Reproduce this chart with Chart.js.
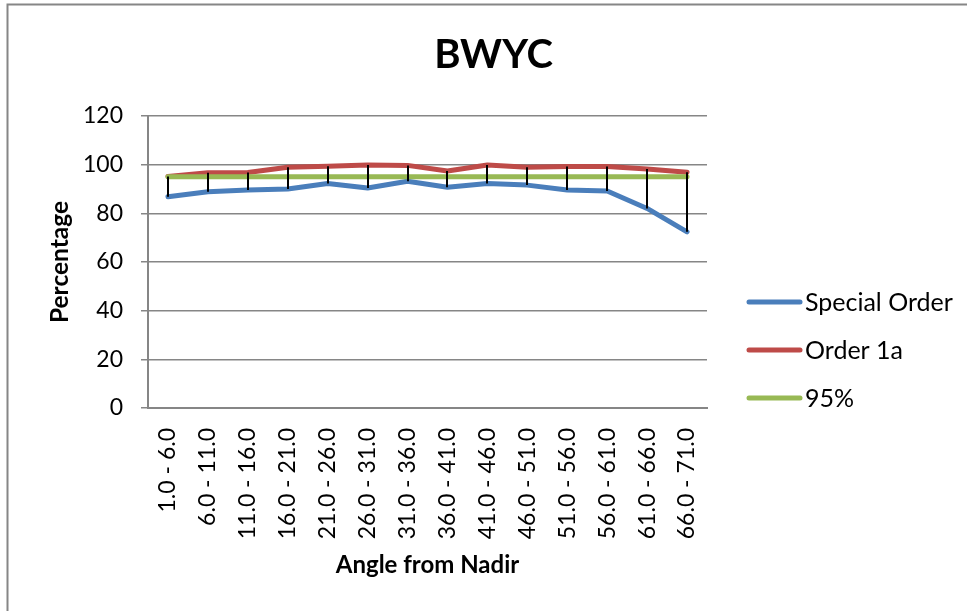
<!DOCTYPE html>
<html>
<head>
<meta charset="utf-8">
<script src="https://cdn.jsdelivr.net/npm/chart.js@4/dist/chart.umd.min.js"></script>
<style>
  html, body { margin: 0; padding: 0; background: #ffffff; }
  #wrap { width: 967px; height: 611px; position: relative; }
</style>
</head>
<body>
<div id="wrap"><canvas id="c" width="967" height="611"></canvas></div>
<script>
// Angle bands from nadir (degrees)
const categories = [
  '1.0 - 6.0', '6.0 - 11.0', '11.0 - 16.0', '16.0 - 21.0', '21.0 - 26.0',
  '26.0 - 31.0', '31.0 - 36.0', '36.0 - 41.0', '41.0 - 46.0', '46.0 - 51.0',
  '51.0 - 56.0', '56.0 - 61.0', '61.0 - 66.0', '66.0 - 71.0'
];

// Percentage of soundings meeting each order
const specialOrder = [86.8, 88.9, 89.6, 90.0, 92.3, 90.4, 93.2, 90.7, 92.3, 91.6, 89.6, 89.2, 82.0, 72.4];
const order1a      = [95.1, 96.7, 96.8, 98.9, 99.3, 99.9, 99.7, 97.4, 99.9, 98.9, 99.2, 99.2, 98.2, 96.9];
const target95     = [95, 95, 95, 95, 95, 95, 95, 95, 95, 95, 95, 95, 95, 95];

const yTicks = [0, 20, 40, 60, 80, 100, 120];

const FONT = 'Lato, "Open Sans", sans-serif';
const GRID = '#868686';

// Outer chart frame
const framePlugin = {
  id: 'frame',
  beforeDraw(chart) {
    const ctx = chart.ctx;
    ctx.save();
    ctx.fillStyle = '#ffffff';
    ctx.fillRect(0, 0, chart.width, chart.height);
    ctx.strokeStyle = GRID;
    ctx.lineWidth = 2;
    ctx.strokeRect(7.5, 4.5, chart.width + 20, chart.height + 20);
    ctx.restore();
  }
};

// Vertical high-low lines joining the highest and lowest series at each band
const highLowPlugin = {
  id: 'highLow',
  afterDatasetsDraw(chart) {
    const ctx = chart.ctx;
    const xs = chart.scales.x, ys = chart.scales.y;
    const sets = chart.data.datasets;
    ctx.save();
    ctx.strokeStyle = '#000000';
    ctx.lineWidth = 2;
    for (let i = 0; i < chart.data.labels.length; i++) {
      const vals = sets.map(d => d.data[i]);
      const hi = Math.max(...vals), lo = Math.min(...vals);
      const x = Math.round(xs.getPixelForValue(i));
      ctx.beginPath();
      ctx.moveTo(x, ys.getPixelForValue(hi));
      ctx.lineTo(x, ys.getPixelForValue(lo));
      ctx.stroke();
    }
    ctx.restore();
  }
};

// Legend on the right side
const legendPlugin = {
  id: 'sideLegend',
  afterDraw(chart) {
    const ctx = chart.ctx;
    const rows = [302, 350, 398];
    ctx.save();
    ctx.font = '25px ' + FONT;
    ctx.textBaseline = 'middle';
    ctx.textAlign = 'left';
    chart.data.datasets.forEach((d, i) => {
      const y = rows[i];
      ctx.strokeStyle = d.borderColor;
      ctx.lineWidth = 5;
      ctx.lineCap = 'round';
      ctx.beginPath();
      ctx.moveTo(749, y);
      ctx.lineTo(800, y);
      ctx.stroke();
      ctx.fillStyle = '#000000';
      ctx.fillText(d.label, 805, y + 1);
    });
    ctx.restore();
  }
};

const lineStyle = {
  borderWidth: 5,
  pointRadius: 0,
  pointHoverRadius: 0,
  tension: 0,
  borderJoinStyle: 'round',
  borderCapStyle: 'round',
  fill: false
};

new Chart(document.getElementById('c'), {
  type: 'line',
  data: {
    labels: categories,
    datasets: [
      Object.assign({ label: 'Special Order', data: specialOrder, borderColor: '#4A7EBB', backgroundColor: '#4A7EBB', order: 3 }, lineStyle),
      Object.assign({ label: 'Order 1a', data: order1a, borderColor: '#BE4B48', backgroundColor: '#BE4B48', order: 2 }, lineStyle),
      Object.assign({ label: '95%', data: target95, borderColor: '#98B954', backgroundColor: '#98B954', order: 1 }, lineStyle)
    ]
  },
  options: {
    responsive: false,
    animation: false,
    events: [],
    layout: { padding: { left: 20, right: 0, top: 0, bottom: 0 } },
    plugins: {
      legend: { display: false },
      tooltip: { enabled: false },
      title: {
        display: true,
        text: 'BWYC',
        color: '#000000',
        font: { family: FONT, size: 40, weight: 'bold', lineHeight: 1.2 },
        padding: { top: 31, bottom: 37 }
      }
    },
    scales: {
      x: {
        type: 'category',
        offset: true,
        grid: { display: false, drawTicks: false },
        border: { display: true, color: GRID, width: 2 },
        ticks: {
          color: '#000000',
          font: { family: FONT, size: 23 },
          minRotation: 90,
          maxRotation: 90,
          padding: 20,
          autoSkip: false
        },
        title: {
          display: true,
          text: 'Angle from Nadir',
          color: '#000000',
          font: { family: FONT, size: 24, weight: 'bold', lineHeight: 1.2 },
          padding: { top: 0, bottom: 31 }
        },
        afterFit(s) { s.height = 203; }
      },
      y: {
        type: 'linear',
        position: 'left',
        min: 0,
        max: 120,
        afterBuildTicks(s) { s.ticks = yTicks.map(v => ({ value: v })); },
        grid: { color: GRID, lineWidth: 1.5, drawTicks: true, tickLength: 7, tickColor: GRID },
        border: { display: true, color: GRID, width: 2 },
        ticks: {
          color: '#000000',
          font: { family: FONT, size: 23 },
          padding: 18
        },
        title: {
          display: true,
          text: 'Percentage',
          color: '#000000',
          font: { family: FONT, size: 24.5, weight: 'bold', lineHeight: 1.2 },
          padding: { top: 25, bottom: 0 }
        },
        afterFit(s) { s.width = 128; }
      },
      side: {
        type: 'linear',
        position: 'right',
        grid: { display: false, drawTicks: false },
        border: { display: false },
        ticks: { display: false },
        afterFit(s) { s.width = 260; }
      }
    }
  },
  plugins: [framePlugin, highLowPlugin, legendPlugin]
});
</script>
</body>
</html>
